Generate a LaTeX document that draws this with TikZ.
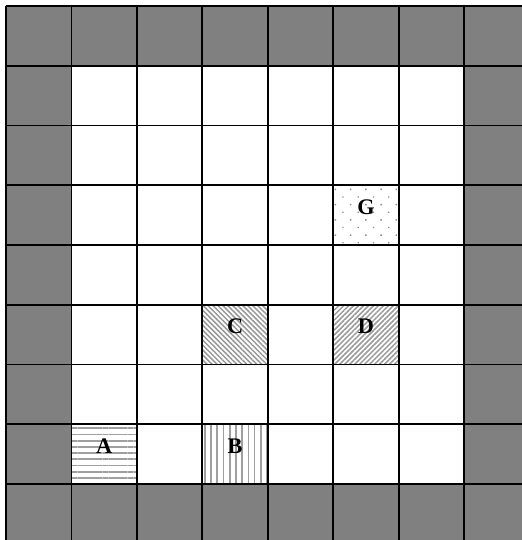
\documentclass[tikz,border=0pt]{standalone}
\usepackage{fontspec}
\setmainfont{Liberation Serif}
\usetikzlibrary{patterns.meta}

\tikzset{
  case/.style={rectangle, inner sep=0pt, minimum width=1.963cm, minimum height=1.7925cm},
  lettre/.style={font=\fontsize{19}{22}\selectfont\bfseries, inner sep=0pt},
  trait/.style={line width=1.6pt},
  rayh/.style={pattern={Lines[angle=0, distance=5.3pt, line width=1.5pt]}, pattern color=gray!75},
  rayv/.style={pattern={Lines[angle=90, distance=5.3pt, line width=1.5pt]}, pattern color=gray!75},
  raydiag/.style={pattern={Lines[angle=#1, distance=3pt, line width=1.3pt]}, pattern color=gray!80},
  points/.style={pattern={Dots[angle=45, distance=9.2pt, radius=0.8pt]}, pattern color=gray!90},
}

\begin{document}
\begin{tikzpicture}[x=1.963cm, y=1.7925cm]
    \useasboundingbox (-0.092,0.063) rectangle (7.871,9.1);

    % Murs et cases libres
    \fill[gray] (0,0) rectangle (8,9);
    \fill[white] (1,1) rectangle (7,8);

    % Cases marquées
    \node[case, rayh] (A) at (1.5,1.5) {};
    \node[case, rayv] (B) at (3.5,1.5) {};
    \node[case, raydiag=-45] (C) at (3.5,3.5) {};
    \node[case, raydiag=45] (D) at (5.5,3.5) {};
    \node[case, points] (G) at (5.5,5.5) {};

    % Grille
    \foreach \i in {0,...,8}
        \draw[trait] (\i,0) -- (\i,9);
    \foreach \j in {0,...,9}
        \draw[trait] (0,\j) -- (8,\j);

    % Lettres
    \node[lettre] (labelA) at ([yshift=0.25cm]A.center) {A};
    \node[lettre] (labelB) at ([yshift=0.25cm]B.center) {B};
    \node[lettre] (labelC) at ([yshift=0.25cm]C.center) {C};
    \node[lettre] (labelD) at ([yshift=0.25cm]D.center) {D};
    \node[lettre] (labelG) at ([yshift=0.25cm]G.center) {G};
\end{tikzpicture}
\end{document}
